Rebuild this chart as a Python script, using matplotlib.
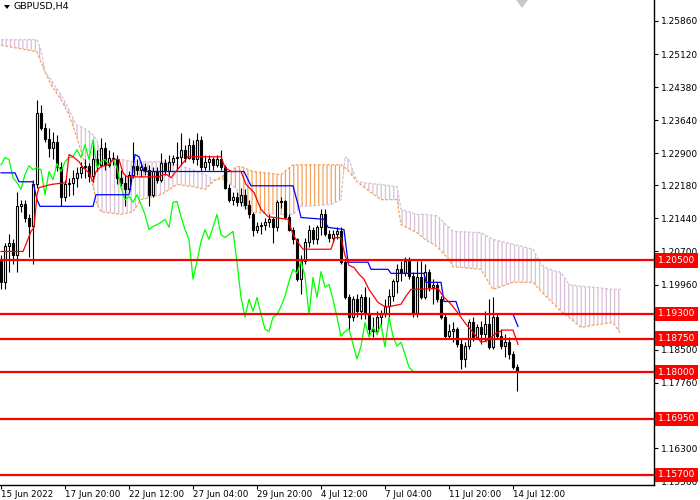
import numpy as np
import matplotlib
matplotlib.use('Agg')
import matplotlib.pyplot as plt
from matplotlib.patches import Polygon

symbol = 'GBPUSD,H4'

# H4 candles, 15 Jun 2022 04:00 .. 14 Jul 2022 16:00
opens = [1.2048, 1.2001, 1.2083, 1.2088, 1.2063, 1.2171, 1.2177, 1.2146, 1.2126, 1.2220,
         1.2381, 1.2347, 1.2322, 1.2302, 1.2316, 1.2260, 1.2191, 1.2222, 1.2224, 1.2235,
         1.2246, 1.2260, 1.2262, 1.2240, 1.2276, 1.2264, 1.2302, 1.2264, 1.2280, 1.2276,
         1.2235, 1.2224, 1.2209, 1.2242, 1.2262, 1.2253, 1.2258, 1.2253, 1.2197, 1.2249,
         1.2231, 1.2267, 1.2249, 1.2271, 1.2280, 1.2282, 1.2298, 1.2280, 1.2309, 1.2276,
         1.2320, 1.2258, 1.2271, 1.2276, 1.2264, 1.2276, 1.2258, 1.2213, 1.2186, 1.2193,
         1.2180, 1.2197, 1.2175, 1.2153, 1.2119, 1.2126, 1.2130, 1.2135, 1.2142, 1.2124,
         1.2180, 1.2182, 1.2148, 1.2119, 1.2097, 1.2008, 1.2048, 1.2092, 1.2119, 1.2097,
         1.2124, 1.2153, 1.2108, 1.2101, 1.2108, 1.2115, 1.2046, 1.1967, 1.1923, 1.1963,
         1.1936, 1.1967, 1.1929, 1.1896, 1.1891, 1.1923, 1.1929, 1.1947, 1.1970, 1.2003,
         1.2030, 1.2021, 1.2048, 1.2014, 1.1929, 1.2012, 1.1967, 1.2025, 1.1990, 1.1996,
         1.1963, 1.1923, 1.1880, 1.1891, 1.1896, 1.1862, 1.1829, 1.1858, 1.1911, 1.1878,
         1.1900, 1.1885, 1.1907, 1.1856, 1.1923, 1.1880, 1.1858, 1.1867, 1.1840, 1.1811]
highs = [1.2063, 1.2090, 1.2108, 1.2097, 1.2204, 1.2186, 1.2186, 1.2153, 1.2231, 1.2408,
         1.2398, 1.2358, 1.2347, 1.2338, 1.2331, 1.2271, 1.2231, 1.2235, 1.2253, 1.2258,
         1.2271, 1.2276, 1.2269, 1.2314, 1.2298, 1.2325, 1.2316, 1.2298, 1.2293, 1.2287,
         1.2253, 1.2242, 1.2249, 1.2316, 1.2276, 1.2271, 1.2269, 1.2264, 1.2258, 1.2258,
         1.2291, 1.2276, 1.2287, 1.2287, 1.2314, 1.2336, 1.2309, 1.2325, 1.2320, 1.2336,
         1.2329, 1.2287, 1.2287, 1.2282, 1.2287, 1.2298, 1.2264, 1.2220, 1.2202, 1.2204,
         1.2213, 1.2209, 1.2186, 1.2159, 1.2137, 1.2137, 1.2146, 1.2153, 1.2148, 1.2186,
         1.2191, 1.2186, 1.2153, 1.2124, 1.2101, 1.2063, 1.2101, 1.2130, 1.2124, 1.2130,
         1.2164, 1.2164, 1.2119, 1.2119, 1.2124, 1.2124, 1.2052, 1.1974, 1.1970, 1.1974,
         1.1974, 1.1990, 1.1967, 1.1923, 1.1936, 1.1940, 1.1963, 1.1985, 1.2008, 1.2041,
         1.2048, 1.2057, 1.2057, 1.2025, 1.2048, 1.2048, 1.2041, 1.2030, 1.2008, 1.2001,
         1.1970, 1.1929, 1.1907, 1.1911, 1.1900, 1.1873, 1.1867, 1.1918, 1.1923, 1.1907,
         1.1914, 1.1936, 1.1963, 1.1967, 1.1929, 1.1896, 1.1885, 1.1878, 1.1847, 1.1818]
lows = [1.1985, 1.1985, 1.2025, 1.2041, 1.2025, 1.2159, 1.2137, 1.2057, 1.2041, 1.2213,
        1.2343, 1.2316, 1.2282, 1.2276, 1.2249, 1.2171, 1.2182, 1.2195, 1.2197, 1.2215,
        1.2235, 1.2235, 1.2226, 1.2226, 1.2249, 1.2258, 1.2253, 1.2258, 1.2264, 1.2220,
        1.2217, 1.2171, 1.2202, 1.2235, 1.2242, 1.2237, 1.2242, 1.2171, 1.2193, 1.2224,
        1.2226, 1.2242, 1.2242, 1.2264, 1.2253, 1.2264, 1.2271, 1.2276, 1.2269, 1.2264,
        1.2249, 1.2253, 1.2253, 1.2253, 1.2260, 1.2253, 1.2209, 1.2180, 1.2175, 1.2171,
        1.2171, 1.2164, 1.2146, 1.2104, 1.2112, 1.2108, 1.2119, 1.2124, 1.2090, 1.2115,
        1.2168, 1.2142, 1.2115, 1.2086, 1.2003, 1.1974, 1.2041, 1.2079, 1.2086, 1.2086,
        1.2106, 1.2104, 1.2092, 1.2092, 1.2097, 1.2041, 1.1963, 1.1896, 1.1914, 1.1923,
        1.1918, 1.1918, 1.1885, 1.1878, 1.1885, 1.1902, 1.1923, 1.1923, 1.1958, 1.1978,
        1.2003, 1.2014, 1.2008, 1.1923, 1.1923, 1.1963, 1.1963, 1.1981, 1.1952, 1.1956,
        1.1918, 1.1873, 1.1873, 1.1867, 1.1856, 1.1806, 1.1811, 1.1851, 1.1869, 1.1873,
        1.1862, 1.1869, 1.1851, 1.1851, 1.1873, 1.1851, 1.1833, 1.1829, 1.1806, 1.1757]
closes = [1.2001, 1.2083, 1.2088, 1.2063, 1.2171, 1.2177, 1.2146, 1.2126, 1.2220, 1.2381,
          1.2347, 1.2322, 1.2302, 1.2316, 1.2260, 1.2191, 1.2222, 1.2224, 1.2235, 1.2246,
          1.2260, 1.2262, 1.2240, 1.2276, 1.2264, 1.2302, 1.2264, 1.2280, 1.2276, 1.2235,
          1.2224, 1.2209, 1.2242, 1.2262, 1.2253, 1.2258, 1.2253, 1.2197, 1.2249, 1.2231,
          1.2267, 1.2249, 1.2271, 1.2280, 1.2282, 1.2298, 1.2280, 1.2309, 1.2276, 1.2320,
          1.2258, 1.2271, 1.2276, 1.2264, 1.2276, 1.2258, 1.2213, 1.2186, 1.2193, 1.2180,
          1.2197, 1.2175, 1.2153, 1.2119, 1.2126, 1.2130, 1.2135, 1.2142, 1.2124, 1.2180,
          1.2182, 1.2148, 1.2119, 1.2097, 1.2008, 1.2048, 1.2092, 1.2119, 1.2097, 1.2124,
          1.2153, 1.2108, 1.2101, 1.2108, 1.2115, 1.2046, 1.1967, 1.1923, 1.1963, 1.1936,
          1.1967, 1.1929, 1.1896, 1.1891, 1.1923, 1.1929, 1.1947, 1.1970, 1.2003, 1.2030,
          1.2021, 1.2048, 1.2014, 1.1929, 1.2012, 1.1967, 1.2025, 1.1990, 1.1996, 1.1963,
          1.1923, 1.1880, 1.1891, 1.1896, 1.1862, 1.1829, 1.1858, 1.1911, 1.1878, 1.1900,
          1.1885, 1.1907, 1.1856, 1.1923, 1.1880, 1.1858, 1.1867, 1.1840, 1.1811, 1.1802]

# Ichimoku lines (bar index, price)
tenkan_bar = [0, 5.5, 6.25, 7.5, 8.25, 9, 9.5, 12.5, 16.25, 17, 18, 19.5, 20.5, 22, 23, 23.75,
              25, 27, 28, 29.5, 30.5, 31.5, 39.5, 40.5, 41.5, 42.5, 43.75, 45.75, 46.75, 55,
              56, 57.5, 60, 61.25, 63.25, 65, 66.75, 71.75, 73, 74.25, 75.5, 82.5, 83.5, 85,
              86, 87, 88.25, 89.5, 90.75, 92, 93, 94.25, 96.25, 100, 101.25, 102.5, 109.25,
              110.5, 112.5, 114.5, 116.25, 118, 120, 121.25, 123.75, 125.5, 128, 129.25]
tenkan_val = [1.2070, 1.2070, 1.2086, 1.2115, 1.2124, 1.2197, 1.2213, 1.2220, 1.2224, 1.2287,
              1.2282, 1.2271, 1.2258, 1.2246, 1.2226, 1.2249, 1.2260, 1.2264, 1.2276, 1.2276,
              1.2246, 1.2237, 1.2237, 1.2242, 1.2242, 1.2235, 1.2249, 1.2271, 1.2282, 1.2282,
              1.2258, 1.2249, 1.2249, 1.2220, 1.2202, 1.2164, 1.2148, 1.2142, 1.2108, 1.2090,
              1.2075, 1.2075, 1.2101, 1.2101, 1.2061, 1.2039, 1.2034, 1.2019, 1.2008, 1.1985,
              1.1972, 1.1956, 1.1945, 1.1952, 1.1970, 1.1985, 1.1987, 1.1970, 1.1952, 1.1929,
              1.1907, 1.1889, 1.1867, 1.1869, 1.1887, 1.1894, 1.1894, 1.1862]
kijun_bar = [0, 3.5, 4.5, 8, 9, 9.75, 23, 23.75, 32, 32.5, 33.5, 34.5, 35.75, 60.75, 62.5, 73,
             74.25, 75, 80.75, 81.75, 85.75, 86.75, 91.75, 92.5, 96.75, 97.5, 105.75, 106.25,
             110, 110.75, 113.75, 114.75, 128, 129.25]
kijun_val = [1.2246, 1.2246, 1.2226, 1.2226, 1.2186, 1.2171, 1.2171, 1.2197, 1.2197, 1.2220,
             1.2287, 1.2282, 1.2249, 1.2249, 1.2217, 1.2217, 1.2175, 1.2146, 1.2142, 1.2124,
             1.2119, 1.2046, 1.2046, 1.2030, 1.2030, 1.2021, 1.2021, 1.2001, 1.2001, 1.1958,
             1.1958, 1.1930, 1.1930, 1.1902]
cloud_bar = [0, 9, 10, 11, 12.5, 15, 17, 18.75, 20.5, 22.5, 24, 25, 30, 33, 35, 40, 44, 48,
             51, 53, 56, 59, 60, 63, 70, 73, 75, 82.5, 85, 86, 87, 89, 92.5, 95, 99, 100, 104,
             106, 109, 112, 113, 120, 123, 128, 133, 135, 137, 140, 142, 145, 148, 153, 155]
span_a = [1.2532, 1.2517, 1.2494, 1.2472, 1.2443, 1.2410, 1.2376, 1.2331, 1.2280, 1.2235,
          1.2175, 1.2159, 1.2153, 1.2159, 1.2186, 1.2197, 1.2220, 1.2215, 1.2209, 1.2226,
          1.2242, 1.2260, 1.2260, 1.2249, 1.2242, 1.2264, 1.2264, 1.2264, 1.2264, 1.2258,
          1.2249, 1.2226, 1.2202, 1.2186, 1.2186, 1.2130, 1.2112, 1.2097, 1.2081, 1.2052,
          1.2036, 1.2030, 1.1985, 1.2001, 1.2001, 1.1981, 1.1963, 1.1936, 1.1923, 1.1900,
          1.1905, 1.1911, 1.1885]
span_b = [1.2544, 1.2544, 1.2521, 1.2472, 1.2454, 1.2421, 1.2387, 1.2354, 1.2347, 1.2336,
          1.2320, 1.2276, 1.2276, 1.2271, 1.2271, 1.2271, 1.2264, 1.2253, 1.2242, 1.2231,
          1.2231, 1.2209, 1.2175, 1.2157, 1.2153, 1.2153, 1.2171, 1.2175, 1.2186, 1.2282,
          1.2276, 1.2226, 1.2222, 1.2220, 1.2215, 1.2164, 1.2153, 1.2153, 1.2150, 1.2124,
          1.2115, 1.2112, 1.2097, 1.2086, 1.2075, 1.2041, 1.2030, 1.2023, 1.1996, 1.1992,
          1.1990, 1.1985, 1.1985]
chikou_shift = 26

levels = [1.2050, 1.1930, 1.1875, 1.1800, 1.1695, 1.1570]
price_ticks = [1.25860, 1.25120, 1.24380, 1.23640, 1.22900, 1.22180, 1.21440, 1.20700,
               1.19960, 1.19240, 1.18500, 1.17760, 1.16300, 1.15560]
date_bars = [0, 16, 32, 48, 64, 80, 96, 112, 128]
date_labels = ['15 Jun 2022', '17 Jun 20:00', '22 Jun 12:00', '27 Jun 04:00', '29 Jun 20:00',
               '4 Jul 12:00', '7 Jul 04:00', '11 Jul 20:00', '14 Jul 12:00']

plt.rcParams['hatch.linewidth'] = 0.9
W, H = 700, 500
fig = plt.figure(figsize=(7, 5), dpi=100)
ax = fig.add_axes([0, 15 / H, 654 / W, 485 / H])

o = np.array(opens)
hi = np.array(highs)
lo = np.array(lows)
c = np.array(closes)
x = np.arange(len(c))

# kumo
cb = np.array(cloud_bar)
sa = np.array(span_a)
sb = np.array(span_b)
ax.fill_between(cb, sa, sb, where=sa >= sb, interpolate=True, facecolor='none',
                edgecolor='#F4A460', hatch='||||', linewidth=0, zorder=1)
ax.fill_between(cb, sa, sb, where=sa <= sb, interpolate=True, facecolor='none',
                edgecolor='#D8BFD8', hatch='||||', linewidth=0, zorder=1)
ax.plot(cb, sa, color='#F4A460', lw=0.9, ls=(0, (2.2, 1.4)), zorder=1.5)
ax.plot(cb, sb, color='#D8BFD8', lw=0.9, ls=(0, (2.2, 1.4)), zorder=1.5)

# candles
up = c >= o
ax.vlines(x, lo, hi, color='black', lw=0.8, zorder=3)
ax.bar(x, np.maximum(np.abs(c - o), 0.00004), bottom=np.minimum(o, c), width=0.62,
       color=np.where(up, 'white', 'black'), edgecolor='black', linewidth=0.8, zorder=4)

# chikou, kijun, tenkan
ax.plot(x[:-chikou_shift], c[chikou_shift:], color='#00FF00', lw=0.9, zorder=5)
ax.plot(kijun_bar, kijun_val, color='#0000FF', lw=0.9, zorder=5)
ax.plot(tenkan_bar, tenkan_val, color='#FF0000', lw=0.9, zorder=5.5)

# horizontal levels
for lv in levels:
    ax.axhline(lv, color='#FF0000', lw=1.6, zorder=6)
    ax.annotate(f'{lv:.5f}', xy=(1.0, lv), xycoords=('axes fraction', 'data'),
                xytext=(3, 0), textcoords='offset points', ha='left', va='center',
                color='white', fontsize=6.5,
                bbox=dict(boxstyle='square,pad=0.3', fc='#FF0000', ec='none'),
                zorder=7, annotation_clip=False)

ax.set_xlim(-0.25, 163.25)
ax.set_ylim(1.15472, 1.26329)

ax.yaxis.tick_right()
ax.set_yticks(price_ticks)
ax.set_yticklabels([f'{t:.5f}' for t in price_ticks])
ax.tick_params(axis='y', length=3, width=0.8, pad=2, labelsize=6.5, colors='black')
ax.set_xticks(date_bars)
ax.set_xticklabels(date_labels)
ax.tick_params(axis='x', length=3, width=0.8, pad=0.5, labelsize=6.3)
for lbl in ax.get_xticklabels():
    lbl.set_horizontalalignment('left')

for side in ['top', 'left']:
    ax.spines[side].set_visible(False)
for side in ['right', 'bottom']:
    ax.spines[side].set_linewidth(1.0)
    ax.spines[side].set_color('black')

# header and chart-shift marker
fig.text(14 / W, 1 - 7 / H, symbol, fontsize=6.8, va='center', ha='left')
fig.patches.append(Polygon([(4 / W, 1 - 5 / H), (10 / W, 1 - 5 / H), (7 / W, 1 - 9 / H)],
                           closed=True, fc='black', ec='none', transform=fig.transFigure))
fig.patches.append(Polygon([(516 / W, 1.0), (528 / W, 1.0), (522 / W, 1 - 8 / H)],
                           closed=True, fc='#C8C8C8', ec='none', transform=fig.transFigure))

fig.savefig('out.png', dpi=100)
